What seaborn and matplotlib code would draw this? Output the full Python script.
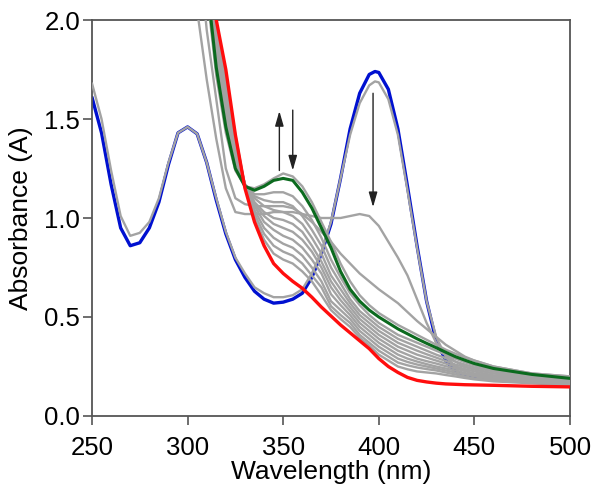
import matplotlib
matplotlib.use("Agg")
import matplotlib.pyplot as plt
import seaborn as sns

# wavelength grids (nm)
wl_full = [250, 255, 260, 265, 270, 275, 280, 285, 290, 295, 300, 305, 310, 315, 320,
           325, 330, 335, 340, 345, 350, 355, 360, 365, 370, 375, 380, 385, 390, 395,
           398, 400, 405, 410, 415, 420, 425, 430, 435, 440, 450, 460, 470, 480, 490, 500]
wl_late = [300, 305, 310, 315, 320, 325, 330, 335, 340, 345, 350, 355, 360, 365, 370,
           375, 380, 385, 390, 395, 400, 405, 410, 415, 420, 425, 430, 435, 440, 445,
           450, 460, 480, 500]

# first spectrum (blue) and the one right after it
blue = [1.61, 1.43, 1.17, 0.95, 0.86, 0.875, 0.95, 1.08, 1.27, 1.43, 1.46, 1.425, 1.28,
        1.09, 0.92, 0.79, 0.70, 0.63, 0.59, 0.57, 0.575, 0.59, 0.62, 0.70, 0.82, 0.97,
        1.20, 1.45, 1.63, 1.725, 1.74, 1.735, 1.65, 1.45, 1.16, 0.86, 0.58, 0.38, 0.28,
        0.225, 0.195, 0.185, 0.18, 0.175, 0.172, 0.17]
early1 = [1.68, 1.50, 1.24, 1.01, 0.91, 0.925, 0.98, 1.10, 1.28, 1.43, 1.46, 1.425, 1.28,
          1.10, 0.93, 0.80, 0.72, 0.65, 0.62, 0.60, 0.60, 0.61, 0.64, 0.72, 0.83, 0.98,
          1.20, 1.42, 1.58, 1.67, 1.69, 1.685, 1.60, 1.42, 1.14, 0.85, 0.58, 0.40, 0.30,
          0.25, 0.21, 0.20, 0.19, 0.19, 0.185, 0.185]

# later spectra on wl_late
early2 = [2.70, 2.05, 1.70, 1.40, 1.15, 1.03, 1.02, 1.02, 1.02, 1.03, 1.03, 1.03, 1.02,
          1.01, 1.00, 1.00, 1.00, 1.01, 1.02, 1.01, 0.96, 0.88, 0.80, 0.71, 0.59, 0.47,
          0.37, 0.31, 0.275, 0.25, 0.235, 0.215, 0.20, 0.19]
early3 = [2.90, 2.45, 1.95, 1.60, 1.25, 1.10, 1.07, 1.06, 1.06, 1.06, 1.06, 1.05, 1.02,
          0.98, 0.93, 0.88, 0.82, 0.77, 0.72, 0.68, 0.64, 0.605, 0.57, 0.525, 0.48, 0.44,
          0.40, 0.36, 0.33, 0.30, 0.28, 0.25, 0.215, 0.20]
early4 = [3.00, 2.55, 2.15, 1.72, 1.43, 1.24, 1.16, 1.15, 1.17, 1.20, 1.225, 1.21, 1.16,
          1.08, 0.98, 0.88, 0.77, 0.68, 0.61, 0.56, 0.52, 0.49, 0.46, 0.435, 0.41, 0.385,
          0.36, 0.335, 0.315, 0.295, 0.28, 0.25, 0.215, 0.20]
green = [3.00, 2.60, 2.20, 1.76, 1.46, 1.25, 1.16, 1.14, 1.16, 1.19, 1.20, 1.19, 1.13,
         1.05, 0.95, 0.85, 0.73, 0.64, 0.58, 0.535, 0.50, 0.47, 0.44, 0.415, 0.39, 0.367,
         0.345, 0.322, 0.30, 0.282, 0.265, 0.24, 0.21, 0.19]
mid = [
    [3.00, 2.62, 2.22, 1.79, 1.49, 1.28, 1.17, 1.12, 1.12, 1.13, 1.13, 1.11, 1.06, 0.99,
     0.90, 0.79, 0.70, 0.62, 0.56, 0.51, 0.47, 0.44, 0.41, 0.39, 0.37, 0.35, 0.33, 0.31,
     0.29, 0.272, 0.255, 0.23, 0.205, 0.19],
    [3.00, 2.62, 2.24, 1.82, 1.52, 1.30, 1.17, 1.11, 1.09, 1.08, 1.08, 1.06, 1.01, 0.94,
     0.86, 0.75, 0.67, 0.59, 0.53, 0.49, 0.45, 0.42, 0.39, 0.37, 0.35, 0.33, 0.31, 0.292,
     0.275, 0.26, 0.245, 0.225, 0.20, 0.185],
    [3.00, 2.63, 2.25, 1.85, 1.55, 1.32, 1.17, 1.10, 1.06, 1.04, 1.03, 1.01, 0.97, 0.90,
     0.82, 0.71, 0.64, 0.57, 0.51, 0.47, 0.43, 0.40, 0.37, 0.35, 0.33, 0.312, 0.295, 0.278,
     0.26, 0.247, 0.235, 0.215, 0.195, 0.18],
    [3.00, 2.63, 2.26, 1.88, 1.58, 1.34, 1.17, 1.08, 1.03, 1.00, 0.99, 0.97, 0.93, 0.86,
     0.78, 0.68, 0.61, 0.55, 0.49, 0.45, 0.41, 0.38, 0.35, 0.33, 0.31, 0.295, 0.28, 0.265,
     0.25, 0.237, 0.225, 0.205, 0.19, 0.175],
    [3.00, 2.63, 2.27, 1.90, 1.61, 1.36, 1.17, 1.07, 1.01, 0.97, 0.95, 0.93, 0.89, 0.83,
     0.75, 0.65, 0.585, 0.53, 0.47, 0.43, 0.39, 0.36, 0.33, 0.31, 0.29, 0.277, 0.265, 0.252,
     0.24, 0.227, 0.215, 0.20, 0.185, 0.172],
    [3.00, 2.64, 2.28, 1.93, 1.64, 1.38, 1.17, 1.06, 0.98, 0.94, 0.91, 0.89, 0.85, 0.79,
     0.72, 0.615, 0.56, 0.51, 0.45, 0.41, 0.37, 0.34, 0.31, 0.29, 0.275, 0.262, 0.25, 0.24,
     0.23, 0.217, 0.205, 0.19, 0.18, 0.168],
    [3.00, 2.64, 2.29, 1.95, 1.67, 1.40, 1.16, 1.04, 0.95, 0.90, 0.87, 0.85, 0.81, 0.75,
     0.68, 0.58, 0.535, 0.49, 0.43, 0.39, 0.35, 0.32, 0.29, 0.273, 0.26, 0.25, 0.24, 0.23,
     0.22, 0.21, 0.20, 0.185, 0.175, 0.164],
    [3.00, 2.64, 2.30, 1.97, 1.70, 1.41, 1.16, 1.02, 0.92, 0.86, 0.83, 0.81, 0.77, 0.71,
     0.65, 0.555, 0.51, 0.47, 0.41, 0.37, 0.33, 0.30, 0.27, 0.256, 0.245, 0.237, 0.23, 0.22,
     0.21, 0.20, 0.19, 0.18, 0.17, 0.16],
    [3.00, 2.65, 2.30, 1.99, 1.72, 1.42, 1.16, 1.00, 0.89, 0.82, 0.79, 0.77, 0.73, 0.68,
     0.61, 0.535, 0.49, 0.45, 0.395, 0.355, 0.31, 0.28, 0.25, 0.236, 0.225, 0.22, 0.215,
     0.207, 0.20, 0.192, 0.185, 0.175, 0.165, 0.155],
]
red = [3.00, 2.60, 2.30, 2.00, 1.75, 1.42, 1.15, 0.98, 0.86, 0.77, 0.72, 0.68, 0.645,
       0.60, 0.55, 0.505, 0.46, 0.42, 0.38, 0.34, 0.29, 0.25, 0.22, 0.195, 0.18, 0.172,
       0.166, 0.162, 0.16, 0.158, 0.157, 0.155, 0.15, 0.147]

# arrows: (x, y_tail, y_head)
arrows = [(348, 1.24, 1.54), (355, 1.545, 1.24), (397, 1.63, 1.055)]

GRAY = "#a3a3a3"
AX = "#555555"

sns.set_style("ticks")
plt.rcParams["font.family"] = ["Liberation Sans", "DejaVu Sans"]

fig = plt.figure(figsize=(6, 4.94), dpi=100)
ax = fig.add_axes([0.1533, 0.1579, 0.7967, 0.8016])

sns.lineplot(x=wl_full, y=blue, color="#0010d0", lw=2.4, ax=ax, zorder=2)
sns.lineplot(x=wl_full, y=early1, color=GRAY, lw=1.7, ax=ax, zorder=3)
for ys in [early2, early3, early4] + mid:
    sns.lineplot(x=wl_late, y=ys, color=GRAY, lw=1.7, ax=ax, zorder=3)
sns.lineplot(x=wl_late, y=green, color="#0b6a1e", lw=2.2, ax=ax, zorder=4)
sns.lineplot(x=wl_late, y=red, color="#ff0d0d", lw=2.4, ax=ax, zorder=5)

for x, y0, y1 in arrows:
    ax.annotate("", xy=(x, y1), xytext=(x, y0),
                arrowprops=dict(arrowstyle="-|>,head_length=0.9,head_width=0.26",
                                color="#222222", lw=1.0, shrinkA=0, shrinkB=0))

ax.set_xlim(250, 500)
ax.set_ylim(0, 2.0)
ax.set_xticks([250, 300, 350, 400, 450, 500])
ax.set_yticks([0.0, 0.5, 1.0, 1.5, 2.0])
ax.set_yticklabels(["0.0", "0.5", "1.0", "1.5", "2.0"])
ax.set_xlabel("Wavelength (nm)", fontsize=19, labelpad=0, color="black")
ax.set_ylabel("Absorbance (A)", fontsize=19, labelpad=8, color="black")
ax.tick_params(direction="out", length=6.5, width=1.2, color=AX, labelsize=18.5,
               labelcolor="black")
ax.tick_params(axis="x", pad=8)
ax.tick_params(axis="y", pad=2)
for s in ax.spines.values():
    s.set_color(AX)
    s.set_linewidth(1.3)

fig.savefig("out.png", dpi=100)
